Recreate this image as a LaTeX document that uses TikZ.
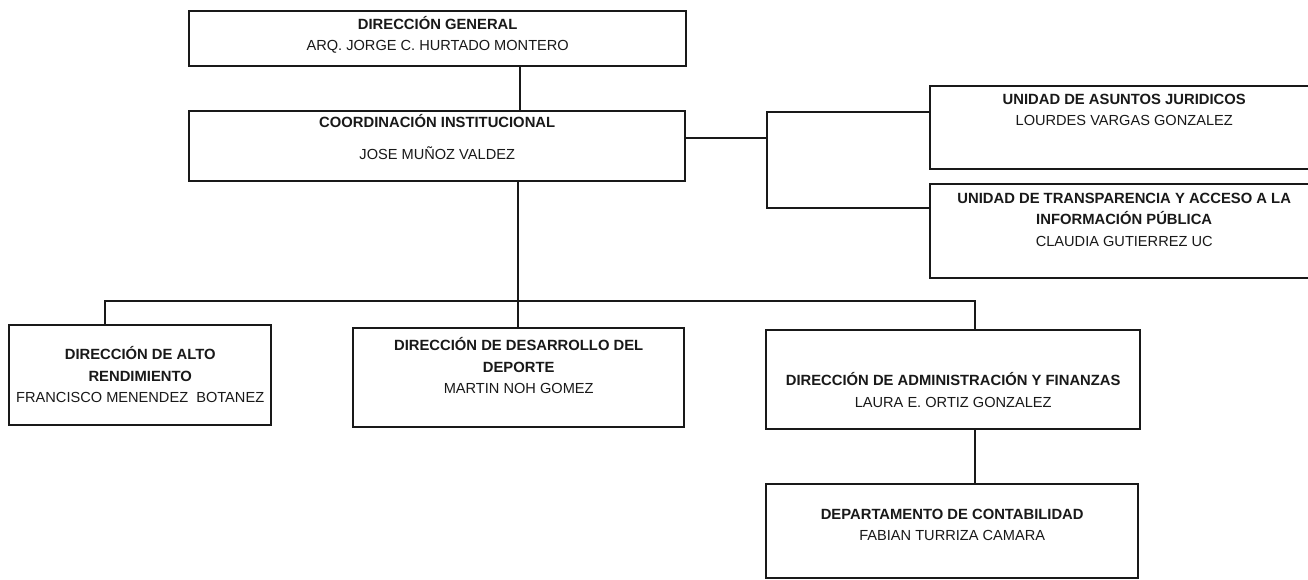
\documentclass[tikz,border=0pt]{standalone}
\usepackage{fontspec}
\setmainfont{Liberation Sans}

% text of a box: [gap], width, height, top gap, title, name
\newcommand{\cajatexto}[6][0pt]{%
  \parbox[b][#3][t]{#2}{\centering\vspace*{#4}\rule{0pt}{13pt}%
    {\bfseries\fontsize{14.8}{21.5}\selectfont #5}\\[#1]#6}}

\begin{document}
\begin{tikzpicture}[x=1pt, y=-1pt,
    caja/.style={draw=black!90, line width=2.4pt, inner sep=0pt, anchor=north west,
      text=black!90, font=\fontsize{14.6}{21.5}\selectfont},
    linea/.style={draw=black!90, line width=2.4pt}]
        \useasboundingbox (0,0) rectangle (1308,579);
        \fill[white] (0,0) rectangle (1308,579);

        % Draw the boxes
        \node[caja] (dg) at (188,10) {\cajatexto{497pt}{55pt}{4.7pt}{DIRECCIÓN GENERAL}{ARQ. JORGE C. HURTADO MONTERO}};
        \node[caja] (ci) at (188,110) {\cajatexto[11pt]{496pt}{70pt}{2.7pt}{COORDINACIÓN INSTITUCIONAL}{JOSE MUÑOZ VALDEZ}};
        \node[caja] (uaj) at (929,85) {\cajatexto{388pt}{83pt}{5.2pt}{UNIDAD DE ASUNTOS JURIDICOS}{LOURDES VARGAS GONZALEZ}};
        \node[caja] (utaip) at (929,183) {\cajatexto{388pt}{94pt}{6.2pt}{UNIDAD DE TRANSPARENCIA Y ACCESO A LA\\INFORMACIÓN PÚBLICA}{CLAUDIA GUTIERREZ UC}};
        \node[caja] (adr) at (8,324) {\cajatexto{262pt}{100pt}{21.2pt}{DIRECCIÓN DE ALTO\\RENDIMIENTO}{FRANCISCO MENENDEZ \ BOTANEZ}};
        \node[caja] (ddd) at (352,327) {\cajatexto{331pt}{99pt}{9.2pt}{DIRECCIÓN DE DESARROLLO DEL\\DEPORTE}{MARTIN NOH GOMEZ}};
        \node[caja] (daf) at (765,329) {\cajatexto{374pt}{99pt}{42.2pt}{DIRECCIÓN DE ADMINISTRACIÓN Y FINANZAS}{LAURA E. ORTIZ GONZALEZ}};
        \node[caja] (dc) at (765,483) {\cajatexto{372pt}{94pt}{22.2pt}{DEPARTAMENTO DE CONTABILIDAD}{FABIAN TURRIZA CAMARA}};

        % Points where the lines turn
        \coordinate (v1) at (520,0);   % line DG to CI
        \coordinate (d1) at (767,138); % right of CI
        \coordinate (d2) at (767,112); % upper branch
        \coordinate (d3) at (767,208); % lower branch
        \coordinate (b1) at (105,301); % bus, left end
        \coordinate (b2) at (518,301); % bus, middle
        \coordinate (b3) at (975,301); % bus, right end

        % Draw the lines
        \draw[linea] (dg.south -| v1) -- (ci.north -| v1);
        \draw[linea] (ci.east |- d1) -- (d1);
        \draw[linea] (uaj.west |- d2) -- (d2) -- (d3) -- (utaip.west |- d3);
        \draw[linea] (ci.south -| b2) -- (ddd.north -| b2);
        \draw[linea] (adr.north -| b1) -- (b1) -- (b3) -- (daf.north -| b3);
        \draw[linea] (daf.south -| b3) -- (dc.north -| b3);
    \end{tikzpicture}
\end{document}
